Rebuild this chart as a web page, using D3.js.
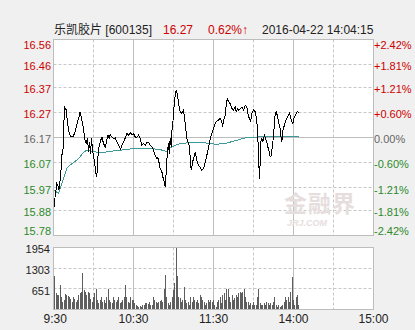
<!DOCTYPE html>
<html>
<head>
<meta charset="utf-8">
<script src="https://cdn.jsdelivr.net/npm/d3@7"></script>
<style>
body{margin:0;background:#f1f0f0}
svg{display:block}
text{font-family:"Liberation Sans","Noto Sans CJK SC",Arial,sans-serif}
</style>
</head>
<body>
<div id="viz"></div>
<script>
// header
const title = "乐凯胶片 [600135]";
const lastPrice = "16.27";
const change = "0.62%↑";
const stamp = "2016-04-22 14:04:15";

// axes
const priceTicks = [16.56, 16.46, 16.37, 16.27, 16.17, 16.07, 15.97, 15.88, 15.78];
const pctTicks = ["+2.42%", "+1.81%", "+1.21%", "+0.60%", "0.00%", "-0.60%", "-1.21%", "-1.81%", "-2.42%"];
const volTicks = [1954, 1303, 651];
const timeLabels = [" 9:30", "10:30", "11:30", "14:00", "15:00"];
const timeMins = [0, 60, 120, 180, 240];
const prevClose = 16.17;

// price line, minutes from 9:30 (afternoon continues after 120)
const priceMin = [
  0, 1.3, 2.5, 3.3, 4, 4.5, 5.5, 6, 7, 7.5,
  8, 8.5, 9.5, 10.5, 11.5, 13, 14.5, 15.8, 17, 18.8,
  20, 21.3, 22.5, 23.3, 24.5, 25.5, 26.3, 27, 27.8, 28.5,
  29.5, 30.8, 31.8, 32.5, 33.3, 34.3, 35, 36.3, 37.5, 38.8,
  40, 40.8, 41.8, 42.5, 43.8, 45, 46.3, 47.5, 48.8, 50.3,
  51.3, 52.5, 53.8, 55, 56.3, 57.5, 58.8, 60, 61.3, 62.5,
  63.8, 65, 66.3, 67.5, 68.8, 70, 71.3, 72.5, 73.8, 75,
  76.3, 77.5, 78.3, 79.3, 80, 81.3, 82, 82.8, 83.3, 83.8,
  84.3, 85, 85.5, 86.3, 86.8, 87.5, 88.3, 88.8, 89.3, 90,
  90.8, 91.5, 92, 92.8, 93.8, 95, 96.3, 97.5, 98.8, 99.5,
  100, 100.8, 101.8, 102.5, 103.3, 104.3, 105.3, 106.3, 107.5, 108.8,
  110, 111.3, 112.5, 113.8, 115, 116.3, 117, 117.8, 118.8, 120,
  121.3, 122.5, 123.8, 125, 126.3, 126.8, 127.5, 128.8, 129.5, 130.3,
  131.3, 132.5, 133.8, 135, 136.3, 137, 138, 138.8, 140, 141.3,
  142.5, 143.8, 145, 146.3, 147, 147.8, 148.8, 150, 151.3, 152,
  152.8, 153.3, 153.8, 154.5, 155, 155.5, 156.3, 157, 157.8, 158.3,
  159, 160, 160.8, 161.8, 162.5, 163.3, 164.3, 165, 165.8, 166.3,
  167, 167.8, 168.8, 170, 170.8, 171.3, 171.8, 172.8, 173.8, 175,
  176.3, 177, 177.8, 178.8, 179.5, 180.3, 181.3, 182, 182.8, 184
];
const priceVal = [
  15.872, 15.940, 15.986, 15.980, 15.960, 15.980, 16.020, 16.100, 16.107, 16.167,
  16.259, 16.289, 16.280, 16.232, 16.192, 16.172, 16.172, 16.186, 16.212, 16.246,
  16.272, 16.239, 16.207, 16.167, 16.147, 16.167, 16.112, 16.152, 16.106, 16.167,
  16.112, 16.072, 16.026, 16.015, 16.091, 16.139, 16.152, 16.172, 16.146, 16.132,
  16.159, 16.179, 16.166, 16.182, 16.172, 16.166, 16.168, 16.152, 16.139, 16.123,
  16.139, 16.152, 16.168, 16.186, 16.179, 16.190, 16.182, 16.186, 16.172, 16.170,
  16.179, 16.166, 16.139, 16.146, 16.139, 16.152, 16.152, 16.139, 16.132, 16.119,
  16.099, 16.086, 16.092, 16.066, 16.046, 16.033, 16.013, 15.999, 15.986, 15.973,
  16.013, 16.079, 16.119, 16.146, 16.106, 16.166, 16.132, 16.199, 16.212, 16.266,
  16.319, 16.345, 16.359, 16.345, 16.305, 16.272, 16.266, 16.279, 16.226, 16.192,
  16.166, 16.152, 16.139, 16.092, 16.039, 16.072, 16.092, 16.112, 16.079, 16.059,
  16.053, 16.039, 16.046, 16.072, 16.099, 16.132, 16.152, 16.172, 16.186, 16.206,
  16.226, 16.235, 16.239, 16.246, 16.232, 16.212, 16.239, 16.259, 16.299, 16.325,
  16.312, 16.305, 16.285, 16.279, 16.292, 16.272, 16.285, 16.279, 16.285, 16.292,
  16.279, 16.299, 16.292, 16.252, 16.246, 16.232, 16.266, 16.279, 16.272, 16.252,
  16.219, 16.166, 16.086, 16.006, 16.072, 16.152, 16.166, 16.152, 16.172, 16.179,
  16.166, 16.152, 16.132, 16.112, 16.092, 16.099, 16.139, 16.179, 16.232, 16.266,
  16.272, 16.259, 16.232, 16.206, 16.166, 16.152, 16.192, 16.212, 16.232, 16.246,
  16.259, 16.266, 16.252, 16.232, 16.226, 16.246, 16.259, 16.266, 16.272, 16.270
];

// average price line
const avgMin = [0, 3.8, 6.3, 7.5, 8.8, 10, 11.3, 13.8, 16.3, 18.8,
  21.3, 23.8, 26.3, 30, 35, 42.5, 50, 60, 73.8, 78.8,
  82.5, 85, 86.3, 88.8, 91.3, 95, 107.5, 117.5, 122.5, 130,
  137.5, 145, 152.5, 184];
const avgVal = [15.960, 15.948, 15.986, 16.007, 16.026, 16.049, 16.056, 16.066, 16.075, 16.086,
  16.103, 16.116, 16.119, 16.114, 16.109, 16.115, 16.119, 16.126, 16.126, 16.122,
  16.119, 16.112, 16.126, 16.132, 16.139, 16.146, 16.152, 16.146, 16.143, 16.148,
  16.159, 16.170, 16.172, 16.172];

// volume per minute, index = minute
const volume = [
  1820, 1050, 520, 450, 450, 770, 400, 230, 300, 490,
  470, 420, 380, 330, 230, 400, 330, 240, 295, 450,
  505, 557, 1140, 600, 557, 450, 557, 505, 330, 240,
  400, 505, 640, 295, 190, 295, 400, 240, 295, 190,
  400, 640, 295, 240, 190, 400, 295, 240, 295, 400,
  190, 240, 295, 400, 760, 400, 240, 190, 400, 295,
  295, 190, 137, 110, 83, 110, 83, 137, 137, 190,
  210, 160, 240, 137, 137, 400, 295, 240, 190, 240,
  260, 295, 240, 660, 1100, 400, 190, 137, 240, 400,
  610, 820, 1954, 1060, 400, 350, 240, 295, 720, 295,
  190, 240, 137, 400, 240, 400, 295, 240, 295, 190,
  450, 400, 295, 240, 137, 190, 295, 240, 295, 240,
  295,
  137, 83, 240, 295, 400, 190, 450, 505, 295, 660,
  660, 400, 240, 450, 295, 350, 450, 400, 505, 557,
  505, 557, 640, 400, 240, 240, 137, 190, 137, 240,
  137, 137, 400, 640, 190, 137, 137, 190, 137, 240,
  190, 137, 190, 137, 240, 400, 137, 83, 137, 83,
  110, 137, 240, 400, 295, 400, 240, 560, 1040, 295,
  137, 400, 450, 137
];

const W = 415, H = 330;
const RED = "#cc0000", GREEN = "#2b8a2b", GRID = "#c8c8c8", BORDER = "#bdbdbd";

const svg = d3.select("#viz").append("svg")
  .attr("width", W)
  .attr("height", H);

const x = d3.scaleLinear().domain([0, 240]).range([53.5, 373.5]);
const y = d3.scaleLinear().domain([15.78, 16.56]).range([235.5, 39.5]);
const yv = d3.scaleLinear().domain([0, 1954]).range([309.5, 247.5]);
const px = v => Math.round(v - 0.5) + 0.5;

// panels
svg.append("rect").attr("x", x(0)).attr("y", y(16.56)).attr("width", x(240) - x(0)).attr("height", y(15.78) - y(16.56))
  .attr("fill", "#fff");
svg.append("rect").attr("x", x(0)).attr("y", yv(1954)).attr("width", x(240) - x(0)).attr("height", yv(0) - yv(1954))
  .attr("fill", "#fff");

// vertical grid, both panels
const vgrid = d3.range(1, 8).map(i => i * 30);
[[y(16.56), y(15.78)], [yv(1954), yv(0)]].forEach(([t, b]) => {
  svg.append("g").selectAll("line").data(vgrid).enter().append("line")
    .attr("x1", d => px(x(d))).attr("x2", d => px(x(d)))
    .attr("y1", t).attr("y2", b)
    .attr("stroke", d => d % 60 == 0 && d != 240 ? BORDER : GRID)
    .attr("stroke-dasharray", d => d % 60 == 0 ? null : "3,2");
});

// horizontal grid, price panel
svg.append("g").selectAll("line").data(priceTicks.slice(1, -1)).enter().append("line")
  .attr("x1", x(0)).attr("x2", x(240))
  .attr("y1", d => px(y(d))).attr("y2", d => px(y(d)))
  .attr("stroke", d => d == prevClose ? BORDER : GRID)
  .attr("stroke-dasharray", d => d == prevClose ? null : "3,2");

// horizontal grid, volume panel
svg.append("g").selectAll("line").data(volTicks.slice(1)).enter().append("line")
  .attr("x1", x(0)).attr("x2", x(240))
  .attr("y1", d => px(yv(d))).attr("y2", d => px(yv(d)))
  .attr("stroke", GRID)
  .attr("stroke-dasharray", "3,2");

// watermark
const wm = svg.append("g").attr("fill", "#e6dede");
wm.append("text").attr("x", 284).attr("y", 212).attr("font-size", 23).attr("font-weight", "bold")
  .attr("letter-spacing", 1).text("金融界");
wm.append("text").attr("x", 287).attr("y", 226).attr("font-size", 9).attr("font-weight", "bold")
  .attr("font-style", "italic").text("JRJ.COM");

// volume bars
svg.append("g").selectAll("rect").data(volume).enter().append("rect")
  .attr("x", (d, i) => Math.round(x(i) - 0.5))
  .attr("y", d => Math.round(yv(d)))
  .attr("width", 1)
  .attr("height", d => Math.round(yv(0)) - Math.round(yv(d)))
  .attr("fill", "#5e5e5e");

// average line
const avgPts = avgMin.map((m, i) => [m, avgVal[i]]);
svg.append("path").datum(avgPts)
  .attr("d", d3.line().x(d => x(d[0])).y(d => y(d[1])))
  .attr("fill", "none").attr("stroke", "#3e9a98").attr("stroke-width", 1)
  .attr("shape-rendering", "crispEdges");

// price line
const pricePts = priceMin.map((m, i) => [m, priceVal[i]]);
svg.append("path").datum(pricePts)
  .attr("d", d3.line().x(d => x(d[0])).y(d => y(d[1])))
  .attr("fill", "none").attr("stroke", "#000").attr("stroke-width", 1)
  .attr("shape-rendering", "crispEdges");

// borders
svg.append("rect").attr("x", x(0)).attr("y", y(16.56)).attr("width", x(240) - x(0)).attr("height", y(15.78) - y(16.56))
  .attr("fill", "none").attr("stroke", BORDER);
svg.append("rect").attr("x", x(0)).attr("y", yv(1954)).attr("width", x(240) - x(0)).attr("height", yv(0) - yv(1954))
  .attr("fill", "none").attr("stroke", BORDER);

// price labels
const tickColor = d => d > prevClose ? RED : d < prevClose ? GREEN : "#666";
const labelY = d => Math.min(Math.max(y(d) + 2, 45), 231);
svg.append("g").selectAll("text").data(priceTicks).enter().append("text")
  .attr("x", 51).attr("y", labelY).attr("dy", "0.35em")
  .attr("text-anchor", "end").attr("font-size", 11)
  .attr("fill", tickColor)
  .text(d => d.toFixed(2));
svg.append("g").selectAll("text").data(priceTicks).enter().append("text")
  .attr("x", 374).attr("y", labelY).attr("dy", "0.35em")
  .attr("font-size", 11)
  .attr("fill", tickColor)
  .text((d, i) => pctTicks[i]);

// volume labels
svg.append("g").selectAll("text").data(volTicks).enter().append("text")
  .attr("x", 50).attr("y", d => Math.max(yv(d) + 2, 249)).attr("dy", "0.35em")
  .attr("text-anchor", "end").attr("font-size", 11).attr("fill", "#222")
  .text(d => d);

// time labels
svg.append("g").selectAll("text").data(timeMins).enter().append("text")
  .attr("x", d => x(d)).attr("y", 323)
  .attr("text-anchor", "middle").attr("font-size", 12).attr("fill", "#222")
  .style("white-space", "pre")
  .text((d, i) => timeLabels[i]);

// header
const hd = svg.append("g").attr("font-size", 12);
hd.append("text").attr("x", 54).attr("y", 34).attr("fill", "#222").text(title);
hd.append("text").attr("x", 163).attr("y", 34).attr("fill", RED).text(lastPrice);
hd.append("text").attr("x", 208).attr("y", 34).attr("fill", RED).text(change);
hd.append("text").attr("x", 262).attr("y", 34).attr("fill", "#222").text(stamp);
</script>
</body>
</html>
